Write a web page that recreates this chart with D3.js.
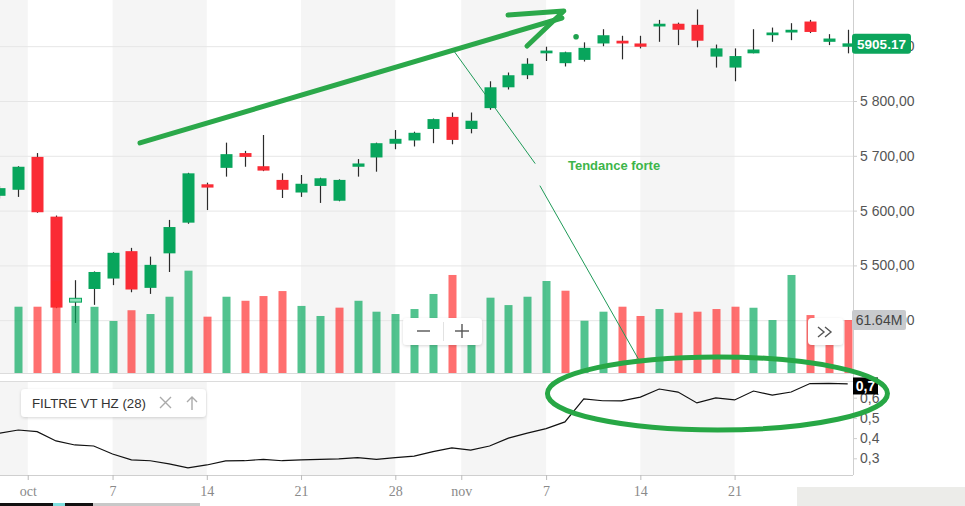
<!DOCTYPE html>
<html><head><meta charset="utf-8">
<script src="https://cdn.jsdelivr.net/npm/d3@7"></script>
<style>html,body{margin:0;padding:0;background:#fff;overflow:hidden}svg{display:block}</style>
</head><body><svg id="c" width="965" height="506"></svg>
<script>
// ---------- DATA ----------
const dates = ["2024-09-27","2024-09-30","2024-10-01","2024-10-02","2024-10-03","2024-10-04","2024-10-07","2024-10-08","2024-10-09","2024-10-10","2024-10-11","2024-10-14","2024-10-15","2024-10-16","2024-10-17","2024-10-18","2024-10-21","2024-10-22","2024-10-23","2024-10-24","2024-10-25","2024-10-28","2024-10-29","2024-10-30","2024-10-31","2024-11-01","2024-11-04","2024-11-05","2024-11-06","2024-11-07","2024-11-08","2024-11-11","2024-11-12","2024-11-13","2024-11-14","2024-11-15","2024-11-18","2024-11-19","2024-11-20","2024-11-21","2024-11-22","2024-11-25","2024-11-26","2024-11-27","2024-11-28","2024-11-29"];
const open  = [5627,5638,5698,5589,5433,5457,5476,5526,5459,5522,5578,5648,5678,5705,5681,5656,5633,5645,5618,5680,5697,5722,5728,5749,5771,5749,5787,5825,5847,5887,5869,5875,5905,5910,5905,5936,5941,5939,5881,5861,5887,5920,5925,5945,5908,5899];
const high  = [5645,5681,5705,5591,5473,5489,5524,5532,5516,5583,5669,5651,5724,5709,5738,5668,5665,5660,5657,5694,5724,5747,5744,5768,5779,5779,5836,5852,5878,5899,5890,5907,5931,5919,5919,5948,5943,5967,5903,5896,5931,5934,5942,5948,5922,5930];
const low   = [5622,5625,5596,5422,5395,5428,5464,5451,5448,5488,5576,5601,5662,5680,5672,5623,5625,5614,5617,5662,5671,5712,5717,5723,5721,5741,5784,5821,5840,5873,5863,5872,5900,5876,5896,5908,5902,5898,5861,5836,5887,5908,5911,5924,5902,5887];
const close = [5641,5680,5597,5423,5440,5488,5523,5456,5501,5570,5668,5642,5703,5698,5673,5638,5649,5659,5656,5686,5723,5731,5742,5767,5729,5764,5825,5847,5868,5892,5889,5897,5920,5905,5899,5941,5930,5910,5896,5882,5894,5925,5930,5926,5914,5905.17];
const volumeM = [null,77.1,77.1,107,78,77,60.5,73,68.6,88.7,119,65.5,88.7,84,89.5,95.3,78,66.3,76,84,71.3,68.6,74.4,91.9,114,50,87.6,79,88.7,107,95.7,60.8,71.3,77.1,66.3,74.4,70.1,71.3,74.4,77.1,75.9,61.6,114,67.4,50,61.64];
const volumeDir = ["u","u","d","d","u","u","u","d","u","u","u","d","u","d","d","d","u","u","d","u","u","u","u","u","d","u","u","u","u","u","d","u","u","d","d","u","d","d","d","d","u","u","u","d","d","d"];
const filtre = [0.424,0.440,0.432,0.386,0.366,0.361,0.321,0.292,0.288,0.272,0.253,0.267,0.287,0.288,0.295,0.288,0.292,0.295,0.297,0.303,0.295,0.303,0.311,0.333,0.352,0.341,0.361,0.400,0.425,0.447,0.480,0.594,0.585,0.584,0.603,0.643,0.628,0.574,0.599,0.589,0.633,0.613,0.628,0.670,0.671,0.668];
const timeTickIndex = [1.5,6,11,16,21,24.5,29,34,39];
const timeTickLabels = ["oct","7","14","21","28","nov","7","14","21"];
const priceTicks = [5400,5500,5600,5700,5800,5900];
const filtreTicks = [0.3,0.4,0.5,0.6];
const lastPrice = 5905.17, lastVolumeLabel = "61.64M", lastFiltreLabel = "0,7";
const legendText = "FILTRE VT HZ (28)";
const noteText = "Tendance forte";
// annotations in data coordinates (index, price) / (index, filtre)
const arrowShaft = [[7.456,5723.4],[29.84,5951.5]];
const arrowHead = [[26.98,5956.9],[29.94,5964.2],[27.99,5900.4]];
const noteDot = [30.59,5917.3];
const callout1 = [[24.11,5891.2],[28.41,5686.3]];
const callout2 = [[28.68,5644.9],[33.88,5330.1]];
const notePos = [30.16,5674.1];
const ellipseC = [38.09,0.621], ellipseR = [9.02,0.181];

// ---------- SETUP ----------
const svg = d3.select("#c");
const AX = 853, mainBot = 373, indTop = 381, indBot = 475;
const fr = d3.formatLocale({decimal:",",thousands:" ",grouping:[3],currency:["",""]});
const x  = d3.scaleLinear().domain([1,45]).range([18.3,847.7]);
const y  = d3.scaleLinear().domain([5400,5900]).range([320.2,46.2]);
const yv = d3.scaleLinear().domain([0,61.64]).range([373,320]);
const yf = d3.scaleLinear().domain([0.3,0.6]).range([458.3,397.7]);
const GREEN = "#08a55c", RED = "#fa2b35";
const SANS = "'Liberation Sans', Arial, sans-serif", SERIF = "'Liberation Serif','Times New Roman',serif";

const defs = svg.append("defs");
defs.append("clipPath").attr("id","cm").append("rect").attr("x",0).attr("y",0).attr("width",AX).attr("height",mainBot);
defs.append("clipPath").attr("id","ci").append("rect").attr("x",0).attr("y",indTop).attr("width",AX).attr("height",indBot-indTop);
const f = defs.append("filter").attr("id","sh").attr("x","-20%").attr("y","-40%").attr("width","140%").attr("height","180%");
f.append("feDropShadow").attr("dx",0).attr("dy",1).attr("stdDeviation",1.6).attr("flood-color","#000").attr("flood-opacity",0.16);

// ---------- BANDS ----------
const edges = [0, ...timeTickIndex.map(x), AX];
const bands = d3.range(edges.length-1).map(j=>({x0:edges[j],x1:edges[j+1],g:j%2===0}));
[[0,mainBot],[indTop,indBot]].forEach(([t,b])=>{
  svg.append("g").selectAll("rect").data(bands.filter(d=>d.g)).join("rect")
    .attr("x",d=>d.x0).attr("width",d=>d.x1-d.x0).attr("y",t).attr("height",b-t).attr("fill","#f5f5f5");
});

// ---------- GRID ----------
svg.append("g").selectAll("line").data(priceTicks).join("line")
  .attr("x1",0).attr("x2",AX).attr("y1",d=>y(d)+0.5).attr("y2",d=>y(d)+0.5)
  .attr("stroke","#e6e6e6").attr("stroke-width",1);

// borders
svg.append("line").attr("x1",0).attr("x2",AX).attr("y1",mainBot+0.5).attr("y2",mainBot+0.5).attr("stroke","#dcdcdc");
svg.append("line").attr("x1",0).attr("x2",AX).attr("y1",indTop+0.5).attr("y2",indTop+0.5).attr("stroke","#dcdcdc");
svg.append("line").attr("x1",AX+0.5).attr("x2",AX+0.5).attr("y1",0).attr("y2",indBot).attr("stroke","#cfcfcf");

// ---------- CANDLES ----------
const idx = d3.range(dates.length);
const cg = svg.append("g").attr("clip-path","url(#cm)");
cg.selectAll("line").data(idx).join("line")
  .attr("x1",k=>Math.round(x(k))+0.5).attr("x2",k=>Math.round(x(k))+0.5)
  .attr("y1",k=>y(high[k])).attr("y2",k=>y(low[k]))
  .attr("stroke","#2b2b2b").attr("stroke-width",1.2);
const hoverIndex = 4;
cg.selectAll("rect").data(idx).join("rect")
  .attr("x",k=>Math.round(x(k))-5.5).attr("width",12)
  .attr("y",k=>Math.min(y(open[k]),y(close[k])))
  .attr("height",k=>Math.max(2.5,Math.abs(y(open[k])-y(close[k]))))
  .attr("fill",k=>k===hoverIndex?"#8fe2bc":(close[k]>=open[k]?GREEN:RED))
  .attr("stroke",k=>k===hoverIndex?GREEN:"none").attr("stroke-width",1);

// ---------- VOLUME ----------
svg.append("g").attr("clip-path","url(#cm)").selectAll("rect")
  .data(idx.filter(k=>volumeM[k]!=null)).join("rect")
  .attr("x",k=>Math.round(x(k))-3.5).attr("width",8)
  .attr("y",k=>yv(volumeM[k])).attr("height",k=>yv(0)-yv(volumeM[k]))
  .attr("fill",k=>volumeDir[k]==="u"?"#00a65a":"#ff2b2b").attr("fill-opacity",0.68);

// ---------- INDICATOR ----------
svg.append("path").attr("clip-path","url(#ci)")
  .datum(filtre).attr("d",d3.line().x((d,k)=>x(k)).y(d=>yf(d)))
  .attr("fill","none").attr("stroke","#111").attr("stroke-width",1.2);

// ---------- AXES ----------
const pa = svg.append("g").attr("transform",`translate(${AX},0)`)
  .call(d3.axisRight(y).tickValues(priceTicks).tickFormat(fr.format(",.2f")).tickSize(4).tickPadding(3));
const fa = svg.append("g").attr("transform",`translate(${AX},0)`)
  .call(d3.axisRight(yf).tickValues(filtreTicks).tickFormat(fr.format(".1f")).tickSize(4).tickPadding(3));
[pa,fa].forEach(a=>{
  a.select(".domain").remove();
  a.selectAll("line").attr("stroke","#cfcfcf");
  a.selectAll("text").attr("font-family",SANS).attr("font-size",14).attr("fill","#555");
});
const ba = svg.append("g").attr("transform",`translate(0,${indBot})`)
  .call(d3.axisBottom(x).tickValues(timeTickIndex).tickFormat((d,i)=>timeTickLabels[i]).tickSize(5).tickPadding(6));
ba.select(".domain").attr("d",`M0,0.5H${AX}`).attr("stroke","#cfcfcf");
ba.selectAll("line").attr("stroke","#bbb");
ba.selectAll("text").attr("font-family",SERIF).attr("font-size",14).attr("fill","#8a8a8a");

// ---------- UI ----------
// zoom buttons
const zb = svg.append("g");
zb.append("rect").attr("x",403).attr("y",318).attr("width",79).attr("height",27).attr("rx",4).attr("fill","#fff").attr("filter","url(#sh)");
zb.append("line").attr("x1",417).attr("x2",430).attr("y1",331).attr("y2",331).attr("stroke","#555").attr("stroke-width",1.4);
zb.append("line").attr("x1",443.5).attr("x2",443.5).attr("y1",322).attr("y2",341).attr("stroke","#e2e2e2");
zb.append("line").attr("x1",455).attr("x2",469).attr("y1",331).attr("y2",331).attr("stroke","#555").attr("stroke-width",1.4);
zb.append("line").attr("x1",462).attr("x2",462).attr("y1",324).attr("y2",338).attr("stroke","#555").attr("stroke-width",1.4);
// >> button
const rb = svg.append("g");
rb.append("rect").attr("x",808).attr("y",318).attr("width",35).attr("height",27).attr("rx",4).attr("fill","#fff").attr("filter","url(#sh)");
rb.append("path").attr("d","M818,327L824,332L818,337M825,327L831,332L825,337").attr("fill","none").attr("stroke","#555").attr("stroke-width",1.4);
// legend
const lg = svg.append("g");
lg.append("rect").attr("x",21).attr("y",389).attr("width",185).attr("height",28).attr("rx",4).attr("fill","#fff").attr("filter","url(#sh)");
lg.append("text").attr("x",32).attr("y",408).text(legendText).attr("font-family",SANS).attr("font-size",13.3).attr("fill","#333");
lg.append("path").attr("d","M160,397L171,408M171,397L160,408").attr("stroke","#aaa").attr("stroke-width",1.4);
lg.append("path").attr("d","M192,397V410M187,402L192,397L197,402").attr("fill","none").attr("stroke","#aaa").attr("stroke-width",1.4);

// ---------- VALUE LABELS ----------
const yl = y(lastPrice);
svg.append("rect").attr("x",852).attr("y",yl-9.5).attr("width",59).attr("height",20).attr("rx",3).attr("fill","#0ca55c");
svg.append("text").attr("x",881.5).attr("y",yl+0.5).attr("dy","0.36em").attr("text-anchor","middle").text(fr.format(".2f")(lastPrice).replace(",","."))
  .attr("font-family",SANS).attr("font-size",13.5).attr("font-weight","bold").attr("fill","#fff");
const yvl = yv(volumeM[volumeM.length-1]);
svg.append("rect").attr("x",852).attr("y",yvl-10).attr("width",54).attr("height",20).attr("rx",2).attr("fill","#c8cacd");
svg.append("text").attr("x",879).attr("y",yvl).attr("dy","0.36em").attr("text-anchor","middle").text(lastVolumeLabel)
  .attr("font-family",SANS).attr("font-size",14).attr("fill","#444");
const yfl = yf(filtre[filtre.length-1]) + 2;
svg.append("rect").attr("x",853).attr("y",yfl-8.5).attr("width",25).attr("height",17).attr("fill","#000");
svg.append("text").attr("x",865.5).attr("y",yfl).attr("dy","0.36em").attr("text-anchor","middle").text(lastFiltreLabel)
  .attr("font-family",SANS).attr("font-size",14).attr("font-weight","bold").attr("fill","#fff");

// ---------- ANNOTATIONS ----------
const P = d=>[x(d[0]),y(d[1])];
const ag = svg.append("g").attr("fill","none").attr("stroke-linecap","round").attr("stroke-linejoin","round");
ag.append("path").attr("d",d3.line()(arrowShaft.map(P))).attr("stroke","#2ba84a").attr("stroke-width",5);
ag.append("path").attr("d",d3.line()(arrowHead.map(P))).attr("stroke","#2ba84a").attr("stroke-width",5);
ag.append("path").attr("d",d3.line()(callout1.map(P))).attr("stroke","#1f9a58").attr("stroke-width",1);
ag.append("path").attr("d",d3.line()(callout2.map(P))).attr("stroke","#1f9a58").attr("stroke-width",1);
svg.append("circle").attr("cx",P(noteDot)[0]).attr("cy",P(noteDot)[1]).attr("r",2.8).attr("fill","#1fa24f");
svg.append("text").attr("x",P(notePos)[0]).attr("y",P(notePos)[1]).text(noteText)
  .attr("font-family",SANS).attr("font-size",13).attr("font-weight","bold").attr("fill","#3db54a");
const ecx = x(ellipseC[0]), ecy = yf(ellipseC[1]);
svg.append("ellipse").attr("cx",ecx).attr("cy",ecy)
  .attr("rx",x(ellipseC[0]+ellipseR[0])-ecx).attr("ry",yf(ellipseC[1]-ellipseR[1])-ecy)
  .attr("fill","none").attr("stroke","#27a745").attr("stroke-width",5);

// screenshot edge artefacts
svg.append("rect").attr("x",797).attr("y",487).attr("width",168).attr("height",19).attr("fill","#ecece9");
svg.append("rect").attr("x",0).attr("y",503).attr("width",93).attr("height",3).attr("fill","#111");
svg.append("rect").attr("x",53).attr("y",503).attr("width",12).attr("height",3).attr("fill","#7fe0e0");
svg.append("rect").attr("x",93).attr("y",503).attr("width",107).attr("height",3).attr("fill","#c8c8c8");
</script></body></html>
